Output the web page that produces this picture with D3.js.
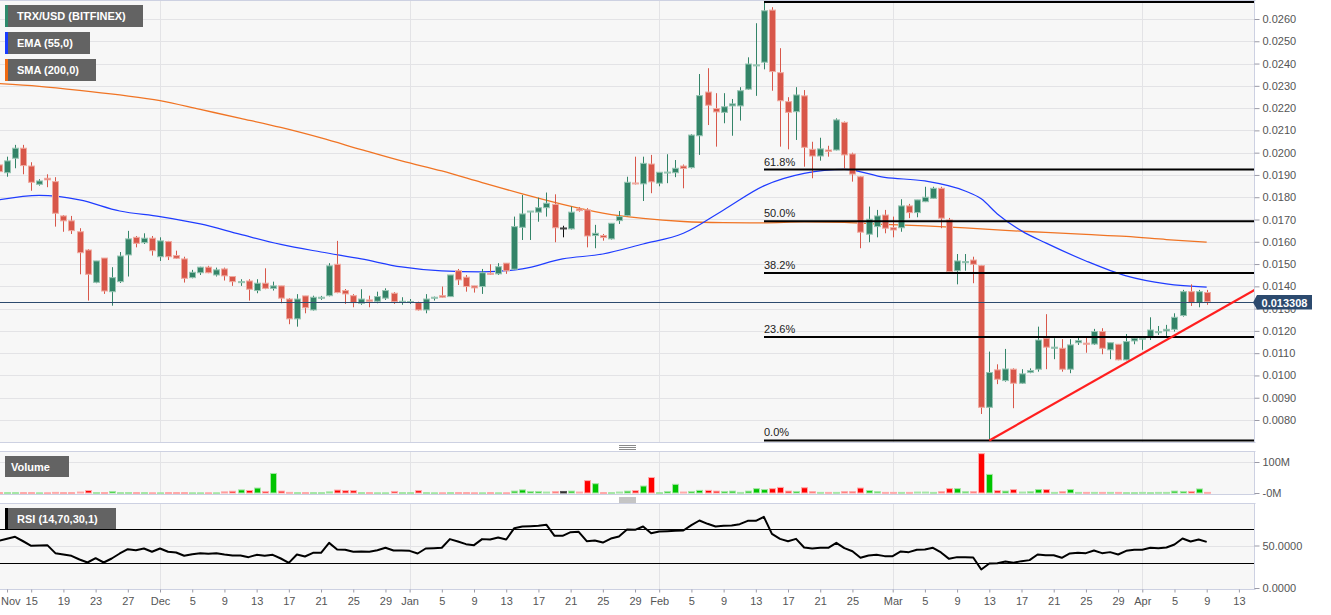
<!DOCTYPE html>
<html>
<head>
<meta charset="utf-8">
<script src="https://cdn.jsdelivr.net/npm/d3@7/dist/d3.min.js"></script>
<style>
html,body{margin:0;padding:0;background:#fff;}
svg{display:block;font-family:"Liberation Sans",Arial,Helvetica,sans-serif;}
</style>
</head>
<body>
<svg id="chart" width="1331" height="615"></svg>
<script>
// ================= DATA =================
const firstDay = "2019-11-11";
const lastDay  = "2020-04-09";

const openP = [
 0.01945,0.01910,0.01975,0.02020,0.01940,0.01858,0.01885,0.01870,0.01716,0.01694,0.01645,0.01563,0.01418,0.01527,0.01376,0.01421,0.01541,0.01620,0.01596,0.01616,
 0.01533,0.01601,0.01538,0.01523,0.01439,0.01461,0.01486,0.01451,0.01478,0.01444,0.01417,0.01424,0.01381,0.01414,0.01391,0.01402,0.01343,0.01254,0.01357,0.01294,0.01347,0.01358,0.01499,0.01381,0.01358,0.01324,0.01339,0.01333,0.01347,0.01369,0.01329,
 0.01330,0.01327,0.01294,0.01347,0.01358,0.01354,0.01470,0.01441,0.01402,0.01399,0.01459,0.01456,0.01504,0.01477,0.01665,0.01734,0.01733,0.01753,0.01768,0.01662,0.01658,0.01747,0.01743,0.01628,0.01628,0.01613,0.01695,0.01717,0.01864,0.01860,0.01949,
 0.01863,0.01910,0.01910,0.01940,0.01933,0.02076,0.02272,0.02198,0.02181,0.02210,0.02210,0.02285,0.02390,0.02406,0.02640,0.02359,0.02229,0.02184,0.02255,0.02015,0.01985,0.02012,0.02012,0.02136,0.01994,0.01892,0.01634,0.01668,0.01720,
 0.01663,0.01663,0.01761,0.01731,0.01780,0.01795,0.01840,0.01698,0.01470,0.01506,0.01518,0.01493,0.00857,0.01025,0.00977,0.01028,0.00965,0.01014,0.01028,0.01167,0.01122,0.01122,0.01028,0.01147,0.01145,0.01141,0.01197,0.01115,0.01140,0.01070,0.01155,
 0.01163,0.01172,0.01192,0.01200,0.01207,0.01269,0.01376,0.01327,0.01372
];
const highP = [
 0.01954,0.01982,0.02035,0.02035,0.01957,0.01881,0.01903,0.01890,0.01720,0.01716,0.01661,0.01567,0.01514,0.01527,0.01486,0.01554,0.01649,0.01626,0.01638,0.01626,
 0.01620,0.01604,0.01560,0.01533,0.01474,0.01488,0.01492,0.01484,0.01484,0.01444,0.01432,0.01432,0.01432,0.01481,0.01421,0.01402,0.01347,0.01365,0.01357,0.01358,0.01357,0.01504,0.01604,0.01388,0.01365,0.01387,0.01358,0.01376,0.01391,0.01374,0.01351,
 0.01343,0.01331,0.01365,0.01354,0.01399,0.01451,0.01478,0.01451,0.01402,0.01478,0.01499,0.01504,0.01504,0.01713,0.01810,0.01738,0.01798,0.01821,0.01813,0.01672,0.01758,0.01755,0.01751,0.01676,0.01635,0.01683,0.01738,0.01892,0.01982,0.01982,0.01990,
 0.01912,0.01993,0.01967,0.01947,0.02083,0.02353,0.02379,0.02267,0.02267,0.02241,0.02294,0.02428,0.02581,0.02676,0.02653,0.02469,0.02249,0.02294,0.02281,0.02049,0.02067,0.02031,0.02154,0.02140,0.02000,0.01895,0.01758,0.01743,0.01743,
 0.01713,0.01791,0.01770,0.01788,0.01847,0.01847,0.01847,0.01707,0.01545,0.01545,0.01533,0.01496,0.01107,0.01050,0.01119,0.01032,0.01028,0.01032,0.01219,0.01275,0.01167,0.01163,0.01163,0.01172,0.01172,0.01209,0.01212,0.01147,0.01140,0.01186,0.01172,
 0.01167,0.01261,0.01222,0.01227,0.01279,0.01384,0.01409,0.01384,0.01384
];
const lowP = [
 0.01878,0.01892,0.01930,0.01903,0.01829,0.01852,0.01845,0.01668,0.01645,0.01635,0.01454,0.01336,0.01414,0.01366,0.01313,0.01415,0.01444,0.01575,0.01590,0.01538,
 0.01514,0.01518,0.01523,0.01417,0.01436,0.01451,0.01459,0.01444,0.01426,0.01402,0.01402,0.01336,0.01369,0.01387,0.01381,0.01324,0.01230,0.01219,0.01279,0.01291,0.01339,0.01355,0.01369,0.01321,0.01306,0.01317,0.01306,0.01324,0.01339,0.01321,0.01317,
 0.01321,0.01291,0.01279,0.01336,0.01349,0.01352,0.01406,0.01376,0.01372,0.01366,0.01451,0.01451,0.01456,0.01474,0.01608,0.01608,0.01690,0.01713,0.01598,0.01620,0.01655,0.01735,0.01575,0.01571,0.01605,0.01610,0.01680,0.01715,0.01857,0.01783,0.01818,
 0.01849,0.01863,0.01890,0.01840,0.01929,0.01990,0.02124,0.02027,0.02132,0.02076,0.02144,0.02282,0.02255,0.02374,0.02278,0.02027,0.02015,0.02057,0.01937,0.01885,0.01964,0.01982,0.02010,0.01930,0.01870,0.01571,0.01598,0.01620,0.01638,
 0.01620,0.01645,0.01706,0.01710,0.01778,0.01793,0.01661,0.01460,0.01409,0.01470,0.01414,0.00827,0.00708,0.00961,0.00972,0.00853,0.00962,0.01010,0.01017,0.01028,0.01073,0.01017,0.01010,0.01137,0.01102,0.01137,0.01095,0.01073,0.01068,0.01068,0.01140,
 0.01115,0.01159,0.01182,0.01177,0.01197,0.01264,0.01312,0.01306,0.01317
];
const closeP = [
 0.01915,0.01963,0.02020,0.01942,0.01867,0.01873,0.01878,0.01728,0.01694,0.01650,0.01551,0.01454,0.01514,0.01379,0.01439,0.01536,0.01613,0.01593,0.01616,0.01560,
 0.01604,0.01533,0.01526,0.01436,0.01463,0.01486,0.01461,0.01474,0.01447,0.01421,0.01421,0.01387,0.01414,0.01391,0.01402,0.01347,0.01254,0.01343,0.01304,0.01351,0.01351,0.01492,0.01372,0.01366,0.01327,0.01343,0.01333,0.01354,0.01381,0.01331,0.01333,
 0.01332,0.01294,0.01343,0.01351,0.01351,0.01451,0.01429,0.01399,0.01393,0.01461,0.01454,0.01488,0.01470,0.01668,0.01725,0.01738,0.01753,0.01773,0.01663,0.01662,0.01733,0.01740,0.01626,0.01638,0.01619,0.01683,0.01713,0.01867,0.01860,0.01952,0.01869,
 0.01912,0.01913,0.01930,0.01929,0.02079,0.02256,0.02213,0.02183,0.02206,0.02219,0.02278,0.02398,0.02394,0.02637,0.02364,0.02233,0.02181,0.02259,0.02024,0.01985,0.02017,0.02005,0.02147,0.01990,0.01904,0.01643,0.01701,0.01716,0.01661,
 0.01653,0.01761,0.01731,0.01788,0.01800,0.01840,0.01706,0.01466,0.01514,0.01511,0.01499,0.00857,0.01013,0.00983,0.01029,0.00965,0.01007,0.01022,0.01159,0.01127,0.01127,0.01028,0.01137,0.01156,0.01140,0.01197,0.01122,0.01147,0.01070,0.01152,0.01167,
 0.01167,0.01204,0.01197,0.01207,0.01261,0.01376,0.01327,0.01376,0.013308
];
// volume in millions
const volumeM = [
 1,1,1,1,1,0.5,0.5,2,1,1,3,8,1.5,1.5,5,1,1.5,1,1,0.5,
 0.5,1,1,1,0.5,0.5,0.5,0.5,3.5,5.5,10,8,16,5,63,6,2,1,1,1,1,3.5,9.5,7.5,7.5,1,1,0.5,0.5,5,1,
 1,7.5,1,0.5,0.5,1,1,1,0.5,0.5,1,0.5,0.5,6,10,5,5,3,4,5,6,3,40,30,1,1,3,6,7.5,22.5,50,
 1,5,28,3,5,8.5,8.5,6,5,6,2,6,14,11,14,18,6,5,17,4,2,2,2,4,4,16,7.5,4,2,
 2,2,2,3,3,2,4,14,14,4,4,127,60,7.5,6,11,3,4,11,11,2,4,11,2,2,2,2,2,2,1,1,
 2,1,2,2,6,5,5,13,2
];
const rsiValues = [
 55.5,58,60.2,55,49.6,50,50.4,41,39.4,37.9,33.5,30,35.1,30,34.7,40.6,45.7,44.5,46.5,42.6,
 46.5,42.6,41.8,37.9,39.8,41,40.2,41,39.4,38.2,38.2,36.3,39,37.9,39,34.7,29.6,39.4,37.1,41.4,41.4,53.1,45.3,44.9,42.6,43,42.6,44.5,47.3,44.1,44.1,
 43.7,40.6,46.5,46.9,47.3,57.5,54.7,51.6,50.4,57.5,57.1,59.4,57.1,70.4,72.4,72.7,73.1,74.3,61.4,61.4,65.7,66.1,55.1,55.9,53.5,58.2,60.6,68.8,68.4,72.4,64.5,
 66.5,66.9,67.3,67.6,73.9,79.4,75.5,72.4,73.1,73.5,75.1,79,79,83.7,63.7,57.8,55.1,57.8,47.7,46.5,47.3,47.3,53.1,46.9,43.3,35.5,38.2,39,37.5,
 37.5,43,42.2,44.9,45.3,47.3,41.8,34.3,36.3,36.3,35.9,21.8,28.8,29.2,31.2,29.6,31.6,32.8,39.4,38.6,38.6,35.5,40.6,41.4,41,44.1,41,42.2,39.4,43.7,44.9,
 44.9,47.3,46.9,47.7,51.2,58.2,54.7,57.1,54.3
];
const rsiLevels = [70, 30];

const emaDates = ["2019-11-11","2019-11-16","2019-11-21","2019-11-26","2019-12-01","2019-12-06","2019-12-11","2019-12-16","2019-12-21","2019-12-26","2019-12-31","2020-01-05","2020-01-10","2020-01-15","2020-01-20","2020-01-25","2020-01-30","2020-02-04","2020-02-09","2020-02-14","2020-02-19","2020-02-24","2020-02-29","2020-03-05","2020-03-10","2020-03-12","2020-03-14","2020-03-17","2020-03-20","2020-03-25","2020-03-30","2020-04-04","2020-04-09"];
const emaValues = [0.01788,0.01808,0.01788,0.01738,0.01713,0.01680,0.01633,0.01588,0.01554,0.01523,0.01487,0.01469,0.01465,0.01478,0.01523,0.01545,0.01590,0.01638,0.01743,0.01851,0.01907,0.01925,0.01889,0.01873,0.01828,0.01793,0.01725,0.01649,0.01595,0.01514,0.01447,0.01411,0.01396];

const smaDates = ["2019-11-11","2019-11-16","2019-11-21","2019-11-26","2019-12-01","2019-12-06","2019-12-11","2019-12-16","2019-12-21","2019-12-26","2019-12-31","2020-01-05","2020-01-10","2020-01-15","2020-01-20","2020-01-25","2020-01-30","2020-02-04","2020-02-09","2020-02-14","2020-02-19","2020-02-24","2020-02-29","2020-03-05","2020-03-10","2020-03-15","2020-03-20","2020-03-25","2020-03-30","2020-04-04","2020-04-09"];
const smaValues = [0.02310,0.02298,0.02280,0.02259,0.02234,0.02194,0.02154,0.02113,0.02066,0.02014,0.01963,0.01918,0.01866,0.01815,0.01768,0.01729,0.01705,0.01691,0.01686,0.01685,0.01689,0.01687,0.01678,0.01671,0.01662,0.01651,0.01642,0.01633,0.01624,0.01610,0.01598];

const fibRatios = [0, 0.236, 0.382, 0.5, 0.618, 1];
const fibLabels = ["0.0%", "23.6%", "38.2%", "50.0%", "61.8%", ""];

const trendDates = ["2020-03-13", "2020-04-15"];
const trendValues = [0.00708, 0.01385];

const priceTicks = [0.008,0.009,0.010,0.011,0.012,0.013,0.014,0.015,0.016,0.017,0.018,0.019,0.020,0.021,0.022,0.023,0.024,0.025,0.026];
const volumeTicks = [0, 100];
const volumeTickLabels = ["-0M", "100M"];
const rsiTicks = [0, 50];
const rsiTickLabels = ["0.0000", "50.0000"];

const xTickDates = ["2019-11-12","2019-11-15","2019-11-19","2019-11-23","2019-11-27","2019-12-01","2019-12-05","2019-12-09","2019-12-13","2019-12-17","2019-12-21","2019-12-25","2019-12-29","2020-01-01","2020-01-05","2020-01-09","2020-01-13","2020-01-17","2020-01-21","2020-01-25","2020-01-29","2020-02-01","2020-02-05","2020-02-09","2020-02-13","2020-02-17","2020-02-21","2020-02-25","2020-03-01","2020-03-05","2020-03-09","2020-03-13","2020-03-17","2020-03-21","2020-03-25","2020-03-29","2020-04-01","2020-04-05","2020-04-09","2020-04-13"];
const xTickLabels = ["Nov","15","19","23","27","Dec","5","9","13","17","21","25","29","Jan","5","9","13","17","21","25","29","Feb","5","9","13","17","21","25","Mar","5","9","13","17","21","25","29","Apr","5","9","13"];
const monthStarts = ["2019-12-01","2020-01-01","2020-02-01","2020-03-01","2020-04-01"];

const legendMain = [
  {text:"TRX/USD (BITFINEX)", color:"#2e8a6c"},
  {text:"EMA (55,0)", color:"#1a3cff"},
  {text:"SMA (200,0)", color:"#f06a12"}
];

// ================= DRAW =================
const parse = d3.utcParse("%Y-%m-%d");
const days = d3.utcDay.range(parse(firstDay), d3.utcDay.offset(parse(lastDay), 1));
const bars = days.map((d, i) => ({date: d, o: openP[i], h: highP[i], l: lowP[i], c: closeP[i], v: volumeM[i], r: rsiValues[i]}));

const PW = 1255;
const main = {top: 0, bottom: 442};
const volP = {top: 451, bottom: 494};
const rsiP = {top: 503, bottom: 589};

const x = d3.scaleUtc().domain([new Date(Date.UTC(2019,10,11,3)), new Date(Date.UTC(2020,3,15))]).range([0, PW]);
const yP = d3.scaleLinear().domain([0.008, 0.026]).range([420, 19]);
const yV = d3.scaleLinear().domain([0, 100]).range([493, 462]);
const yR = d3.scaleLinear().domain([0, 100]).range([588, 503]);

const svg = d3.select("#chart");
svg.append("rect").attr("width", 1331).attr("height", 615).attr("fill", "#fff");

const defs = svg.append("defs");
[["clipMain", main], ["clipVol", volP], ["clipRsi", rsiP]].forEach(([id, p]) => {
  defs.append("clipPath").attr("id", id).append("rect")
    .attr("x", 0).attr("y", p.top).attr("width", PW).attr("height", p.bottom - p.top);
});

const GRID = "#e3e3e6", BORDER = "#cdd1e2";
function panelBg(p, hTicks, yS) {
  svg.append("rect").attr("x", 0).attr("y", p.top).attr("width", PW).attr("height", p.bottom - p.top).attr("fill", "#f7f7f7");
  const g = svg.append("g");
  g.selectAll(".hg").data(hTicks).join("line")
    .attr("x1", 0).attr("x2", PW)
    .attr("y1", d => Math.round(yS(d)) + 0.5).attr("y2", d => Math.round(yS(d)) + 0.5)
    .attr("stroke", GRID).attr("stroke-width", 1);
  g.selectAll(".vg").data(monthStarts).join("line")
    .attr("x1", d => Math.round(x(parse(d))) + 0.5).attr("x2", d => Math.round(x(parse(d))) + 0.5)
    .attr("y1", p.top).attr("y2", p.bottom)
    .attr("stroke", GRID).attr("stroke-width", 1);
}
panelBg(main, priceTicks, yP);
panelBg(volP, [100], yV);
panelBg(rsiP, [50], yR);

// ---- main panel content ----
const gm = svg.append("g").attr("clip-path", "url(#clipMain)");
const lineP = d3.line().x(d => x(d.date)).y(d => yP(d.v)).curve(d3.curveMonotoneX);
gm.append("path").datum(smaDates.map((d, i) => ({date: parse(d), v: smaValues[i]})))
  .attr("d", lineP).attr("fill", "none").attr("stroke", "#f07424").attr("stroke-width", 1.3);
gm.append("path").datum(emaDates.map((d, i) => ({date: parse(d), v: emaValues[i]})))
  .attr("d", lineP).attr("fill", "none").attr("stroke", "#1f3cff").attr("stroke-width", 1.2);

const COL = {up: "#338468", down: "#d8574a", flat: "#111"};
const EDGE = {up: "#97c5b3", down: "#efaaa0", flat: "#444"};
const dir = d => d.c > d.o ? "up" : (d.c < d.o ? "down" : "flat");

const cg = gm.append("g");
cg.selectAll(".wick").data(bars).join("line")
  .attr("x1", d => Math.round(x(d.date)) + 0.5).attr("x2", d => Math.round(x(d.date)) + 0.5)
  .attr("y1", d => yP(d.h)).attr("y2", d => yP(d.l))
  .attr("stroke", d => COL[dir(d)]).attr("stroke-width", 1);
cg.selectAll(".body").data(bars).join("rect")
  .attr("x", d => Math.round(x(d.date)) - 2.5)
  .attr("width", 6)
  .attr("y", d => yP(Math.max(d.o, d.c)))
  .attr("height", d => Math.max(1, Math.abs(yP(d.o) - yP(d.c))))
  .attr("fill", d => COL[dir(d)])
  .attr("stroke", d => EDGE[dir(d)]).attr("stroke-width", 1);

// current price line
const last = bars[bars.length - 1];
const yLast = Math.round(yP(last.c)) + 0.5;
gm.append("line").attr("x1", 0).attr("x2", PW).attr("y1", yLast).attr("y2", yLast)
  .attr("stroke", "#2c4a6e").attr("stroke-width", 1);

// fibonacci retracement
const fibHigh = d3.max(highP), fibLow = d3.min(lowP);
const fibStart = days[highP.indexOf(fibHigh)];
const fx = Math.round(x(fibStart));
const fg = gm.append("g");
fibRatios.forEach((r, i) => {
  const v = fibLow + r * (fibHigh - fibLow);
  const yy = yP(v);
  fg.append("line").attr("x1", fx).attr("x2", PW).attr("y1", yy).attr("y2", yy)
    .attr("stroke", "#000").attr("stroke-width", 2);
  if (fibLabels[i]) {
    fg.append("text").attr("x", fx).attr("y", yy - 4).text(fibLabels[i])
      .attr("font-size", 11).attr("fill", "#222");
  }
});

// trend line
gm.append("line")
  .attr("x1", x(parse(trendDates[0]))).attr("y1", yP(trendValues[0]))
  .attr("x2", x(parse(trendDates[1]))).attr("y2", yP(trendValues[1]))
  .attr("stroke", "#ff1f1f").attr("stroke-width", 2.2);

// ---- volume ----
const VCOL = {up: "#00c400", down: "#ff0000", flat: "#111"};
const VEDGE = {up: "#a6e6a6", down: "#ffaaaa", flat: "#555"};
const gv = svg.append("g").attr("clip-path", "url(#clipVol)");
gv.selectAll("rect").data(bars).join("rect")
  .attr("x", d => Math.round(x(d.date)) - 2.5)
  .attr("width", 6)
  .attr("y", d => yV(d.v))
  .attr("height", d => Math.max(0.8, yV(0) - yV(d.v)))
  .attr("fill", d => VCOL[dir(d)])
  .attr("stroke", d => VEDGE[dir(d)]).attr("stroke-width", 1);

// ---- RSI ----
const gr = svg.append("g").attr("clip-path", "url(#clipRsi)");
rsiLevels.forEach(l => {
  gr.append("line").attr("x1", 0).attr("x2", PW)
    .attr("y1", Math.round(yR(l)) + 0.5).attr("y2", Math.round(yR(l)) + 0.5)
    .attr("stroke", "#000").attr("stroke-width", 1.2);
});
gr.append("path").datum(bars)
  .attr("d", d3.line().x(d => x(d.date)).y(d => yR(d.r)))
  .attr("fill", "none").attr("stroke", "#000").attr("stroke-width", 2).attr("stroke-linejoin", "round");

// ---- panel borders ----
[main, volP, rsiP].forEach(p => {
  const b = svg.append("g").attr("stroke", BORDER).attr("stroke-width", 1).attr("fill", "none");
  b.append("line").attr("x1", 0).attr("x2", PW + 0.5).attr("y1", p.top + 0.5).attr("y2", p.top + 0.5);
  b.append("line").attr("x1", 0).attr("x2", PW + 0.5).attr("y1", p.bottom + 0.5).attr("y2", p.bottom + 0.5);
  b.append("line").attr("x1", PW - 0.5).attr("x2", PW - 0.5).attr("y1", p.top).attr("y2", p.bottom + 0.5);
});

// ---- axes ----
function styleAxis(g) {
  g.select(".domain").remove();
  g.selectAll(".tick line").attr("stroke", "#9a9aa6");
  g.selectAll(".tick text").attr("fill", "#555").attr("font-size", 11)
    .attr("font-family", '"Liberation Sans",Arial,sans-serif');
}
svg.append("g").attr("transform", `translate(${PW - 0.5},0)`)
  .call(d3.axisRight(yP).tickValues(priceTicks).tickFormat(d3.format(".4f")).tickSize(5).tickPadding(3))
  .call(styleAxis);
svg.append("g").attr("transform", `translate(${PW - 0.5},0)`)
  .call(d3.axisRight(yV).tickValues(volumeTicks).tickFormat((d, i) => volumeTickLabels[i]).tickSize(5).tickPadding(3))
  .call(styleAxis);
svg.append("g").attr("transform", `translate(${PW - 0.5},0)`)
  .call(d3.axisRight(yR).tickValues(rsiTicks).tickFormat((d, i) => rsiTickLabels[i]).tickSize(5).tickPadding(3))
  .call(styleAxis);
const xAxisG = svg.append("g").attr("transform", `translate(0,${rsiP.bottom + 0.5})`)
  .call(d3.axisBottom(x).tickValues(xTickDates.map(parse)).tickFormat((d, i) => xTickLabels[i]).tickSize(3).tickPadding(5))
  .call(styleAxis);
// keep edge labels inside the picture
xAxisG.selectAll(".tick").each(function() {
  const t = d3.select(this);
  const tr = t.attr("transform");
  const tx = +tr.match(/translate\(([-\d.]+)/)[1];
  const txt = t.select("text");
  const w = txt.node().getComputedTextLength();
  if (tx - w / 2 < 1) txt.attr("x", 1 - tx + w / 2);
});

// ---- current price tag ----
const tag = svg.append("g");
tag.append("path")
  .attr("d", `M${PW - 2},${yLast} L${PW + 2},${yLast - 7.5} L${PW + 57},${yLast - 7.5} L${PW + 57},${yLast + 7} L${PW + 2},${yLast + 7} Z`)
  .attr("fill", "#2c4a6e");
tag.append("text").attr("x", PW + 29.5).attr("y", yLast + 4).attr("text-anchor", "middle")
  .attr("fill", "#fff").attr("font-size", 11).attr("font-weight", "bold")
  .text(d3.format(".6f")(last.c));

// ---- panel handles ----
[[main.bottom + 3], [volP.bottom + 3.5]].forEach(([yy]) => {
  [0, 2, 4].forEach(o => {
    svg.append("line").attr("x1", 619).attr("x2", 636).attr("y1", yy + o + 0.5).attr("y2", yy + o + 0.5)
      .attr("stroke", "#8a8a8a").attr("stroke-width", 1);
  });
});

// ---- legend boxes ----
function legendBox(x0, y0, w, h, text, stripe, tx) {
  const g = svg.append("g");
  g.append("rect").attr("x", x0).attr("y", y0).attr("width", w).attr("height", h).attr("fill", "#636363");
  if (stripe) g.append("rect").attr("x", x0).attr("y", y0).attr("width", 3).attr("height", h).attr("fill", stripe);
  g.append("text").attr("x", tx).attr("y", y0 + h / 2 + 4).text(text)
    .attr("fill", "#fff").attr("font-size", 11).attr("font-weight", "bold");
}
legendBox(5, 5, 138, 22, legendMain[0].text, legendMain[0].color, 17);
legendBox(5, 32, 85, 22, legendMain[1].text, legendMain[1].color, 17);
legendBox(5, 59, 91, 22, legendMain[2].text, legendMain[2].color, 17);
legendBox(5, 456, 64, 21, "Volume", null, 11);
legendBox(5, 508, 111, 21, "RSI (14,70,30,1)", "#000", 17);
</script>
</body>
</html>
